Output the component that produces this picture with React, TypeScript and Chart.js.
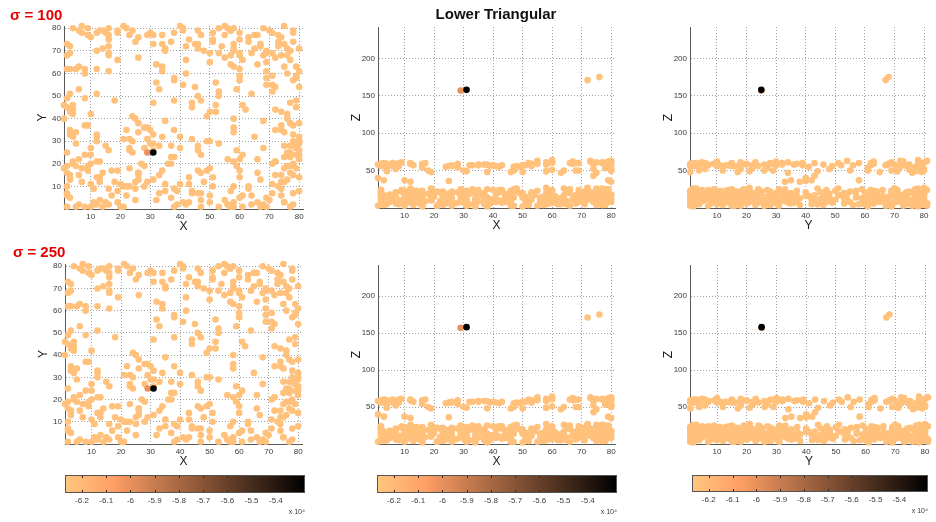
import React, { useEffect, useRef } from 'react';
import { Chart, registerables } from 'chart.js';

Chart.register(...registerables);

type Triple = [number, number, number];
type Marked = [number, number, number, number];

const FONT = '"Liberation Sans", Arial, Helvetica, sans-serif';
Chart.defaults.font.family = FONT;

// Axis tick values
const gridTicks = [10, 20, 30, 40, 50, 60, 70, 80];
const zTicks = [50, 100, 150, 200];
const xLimits = [1, 81.3];
const yLimits = [0, 81];
const zLimits = [0, 242];

// Colour bar (values in units of 10^4)
const colorTicks = [-6.2, -6.1, -6.0, -5.9, -5.8, -5.7, -5.6, -5.5, -5.4];
const colorTickLabels = ['-6.2', '-6.1', '-6', '-5.9', '-5.8', '-5.7', '-5.6', '-5.5', '-5.4'];
const colorLimits = [-6.27, -5.28];

// Colour value of every ordinary point
const baseValue = -6.24;

// Point cloud: [x, y, z]
const cloud: Triple[] = [
  [4, 80, 52], [6, 79, 14], [7, 81, 6], [9, 80, 61], [13, 79, 22], [15, 78, 9], [16, 80, 17], [19, 79, 48], [21, 81, 3], [22, 80, 21], [24, 79, 55], [40, 81, 24], [41, 80, 12], [46, 79, 8], [53, 80, 18], [55, 81, 63], [56, 80, 12], [57, 79, 4], [58, 80, 27], [68, 80, 50], [70, 79, 19], [75, 81, 6], [78, 79, 57],
  [7, 78, 21], [9, 77, 10], [12, 78, 59], [14, 79, 13], [16, 77, 4], [19, 78, 26], [23, 77, 15], [29, 77, 16], [30, 78, 7], [31, 77, 49], [34, 77, 12], [38, 78, 2], [41, 79, 19], [47, 77, 55], [51, 78, 9], [55, 77, 23], [57, 79, 11], [60, 78, 64], [65, 77, 5], [71, 78, 18], [73, 77, 16], [78, 78, 53],
  [10, 76, 3], [16, 75, 58], [26, 76, 20], [51, 75, 11], [63, 76, 47], [66, 77, 25], [74, 76, 8],
  [25, 74, 56], [31, 73, 18], [37, 74, 5], [43, 75, 22], [45, 73, 9], [51, 74, 15], [58, 73, 7], [60, 75, 51], [63, 74, 13], [67, 73, 62], [73, 74, 21], [75, 73, 9], [78, 74, 14],
  [2, 73, 12], [3, 72, 56], [14, 71, 19], [16, 72, 8], [34, 73, 8], [35, 71, 24], [42, 72, 55], [46, 73, 3], [54, 72, 17], [58, 71, 49], [67, 72, 11], [73, 72, 63], [76, 71, 20],
  [12, 70, 7], [16, 69, 23], [35, 70, 58], [46, 71, 14], [48, 70, 26], [50, 69, 2], [58, 70, 20], [60, 69, 61], [65, 71, 9], [69, 70, 15], [71, 69, 5], [77, 70, 26], [80, 71, 52],
  [2, 68, 59], [3, 69, 4], [16, 68, 15], [53, 69, 21], [57, 68, 10], [60, 68, 13], [64, 69, 50], [68, 68, 6], [69, 69, 18], [74, 68, 58], [76, 68, 175],
  [19, 66, 10], [26, 67, 57], [42, 66, 24], [55, 67, 3], [61, 66, 14], [72, 67, 171], [77, 66, 16],
  [32, 64, 19], [34, 63, 6], [50, 65, 48], [57, 64, 12], [58, 63, 59], [66, 64, 22], [69, 65, 8], [75, 63, 23],
  [2, 62, 24], [3, 62, 57], [5, 62, 8], [6, 63, 16], [8, 62, 60], [12, 62, 14], [34, 61, 2], [60, 62, 18], [79, 63, 62],
  [8, 60, 5], [16, 61, 54], [42, 60, 21], [60, 59, 7], [69, 61, 12], [76, 60, 14], [79, 59, 25], [80, 61, 50],
  [38, 58, 5], [60, 57, 23], [69, 58, 60], [71, 59, 13], [78, 57, 19], [79, 58, 37],
  [32, 56, 57], [38, 57, 14], [52, 56, 4], [71, 55, 22],
  [41, 55, 8], [45, 54, 18], [69, 55, 50], [72, 54, 11],
  [6, 53, 13], [33, 53, 20], [53, 52, 57], [59, 53, 6], [80, 54, 63],
  [3, 51, 60], [12, 51, 26], [53, 50, 11], [64, 51, 17], [71, 52, 17],
  [2, 49, 7], [8, 49, 56], [46, 50, 23], [79, 48, 14],
  [18, 48, 19], [38, 48, 13], [44, 47, 8], [47, 48, 52],
  [1, 46, 58], [4, 46, 15], [31, 47, 22], [52, 46, 4], [61, 46, 10], [77, 47, 24],
  [2, 45, 21], [4, 44, 49], [44, 45, 12], [62, 44, 5], [79, 45, 8],
  [3, 43, 10], [4, 42, 5], [50, 43, 17], [52, 43, 60], [72, 44, 26], [74, 43, 43],
  [10, 42, 37], [49, 41, 55], [76, 42, 11],
  [1, 40, 40], [24, 41, 16], [25, 40, 36], [58, 40, 16], [68, 39, 60], [76, 40, 21],
  [26, 38, 13], [35, 39, 57], [77, 38, 4], [80, 38, 35],
  [8, 37, 59], [9, 37, 23], [29, 36, 10], [74, 37, 8], [78, 37, 16],
  [28, 36, 7], [38, 35, 6], [58, 36, 58], [74, 35, 12],
  [3, 35, 37], [5, 34, 18], [22, 35, 9], [26, 34, 7], [30, 35, 20], [58, 34, 61], [72, 35, 14], [75, 34, 47],
  [3, 33, 9], [4, 32, 58], [12, 33, 35], [31, 33, 14], [65, 32, 21], [78, 33, 25],
  [12, 32, 60], [21, 31, 3], [34, 32, 19], [40, 32, 11], [44, 31, 11], [80, 32, 59],
  [12, 30, 16], [23, 31, 22], [29, 31, 25], [50, 30, 57],
  [24, 30, 6], [30, 29, 50], [49, 30, 20], [78, 30, 13], [80, 30, 62],
  [5, 29, 17], [31, 29, 10], [33, 28, 22], [53, 29, 59], [78, 28, 4], [80, 29, 17],
  [15, 28, 18], [28, 27, 54], [37, 28, 8], [46, 28, 21], [68, 27, 12], [75, 28, 13], [77, 28, 60],
  [10, 27, 9], [23, 27, 15], [31, 26, 3], [40, 27, 57], [79, 27, 24],
  [16, 26, 58], [23, 26, 11], [24, 25, 19], [46, 26, 5], [59, 26, 7], [76, 25, 22], [80, 26, 50],
  [2, 25, 21], [8, 24, 56], [77, 25, 9], [79, 24, 14],
  [10, 24, 13], [38, 23, 58], [47, 24, 25], [61, 24, 7], [75, 23, 4], [80, 24, 18],
  [37, 23, 20], [60, 22, 9], [77, 23, 61],
  [6, 22, 57], [13, 21, 23], [56, 22, 12], [66, 22, 20], [72, 21, 16], [80, 22, 53],
  [4, 21, 8], [12, 21, 17], [36, 20, 17], [58, 21, 49], [72, 21, 27], [78, 20, 14],
  [4, 20, 59], [5, 19, 14], [10, 20, 6], [27, 20, 6], [28, 19, 21], [37, 20, 58], [71, 20, 11], [76, 19, 19],
  [2, 19, 16], [7, 18, 52], [9, 19, 24], [59, 19, 10], [75, 18, 61], [77, 19, 25],
  [1, 18, 3], [23, 18, 4], [49, 17, 20], [50, 18, 57], [60, 17, 16], [79, 18, 60],
  [9, 17, 22], [14, 16, 9], [17, 17, 9], [19, 17, 16], [26, 16, 56], [34, 17, 12], [46, 17, 48], [66, 16, 3],
  [2, 16, 6], [6, 15, 56], [26, 16, 19], [47, 16, 14], [74, 15, 18], [77, 16, 22],
  [3, 15, 60], [13, 14, 11], [26, 15, 3], [33, 15, 25], [60, 14, 24], [72, 15, 15], [78, 15, 59], [80, 14, 8],
  [3, 14, 17], [12, 14, 8], [26, 13, 22], [43, 14, 7], [51, 14, 57], [67, 13, 12],
  [3, 13, 57], [7, 12, 18], [31, 13, 23], [74, 12, 20], [76, 13, 10],
  [13, 12, 4], [18, 12, 50], [20, 11, 15], [25, 12, 8], [29, 12, 21], [35, 11, 9], [48, 12, 56], [75, 12, 16],
  [10, 11, 23], [23, 10, 13], [40, 11, 12], [43, 11, 57], [63, 10, 5], [71, 11, 18], [73, 10, 62],
  [2, 10, 56], [11, 9, 14], [21, 10, 22], [22, 10, 7], [25, 9, 18], [28, 10, 59], [38, 9, 25], [51, 10, 10], [58, 10, 6], [74, 9, 19],
  [16, 9, 59], [35, 8, 20], [63, 9, 13], [80, 8, 11],
  [19, 8, 12], [33, 7, 57], [39, 8, 6], [44, 8, 19], [46, 7, 22], [57, 8, 15], [78, 7, 58],
  [2, 7, 24], [17, 6, 60], [44, 7, 18], [47, 7, 3], [61, 6, 14], [71, 7, 13], [74, 6, 52],
  [2, 6, 58], [3, 5, 9], [22, 6, 21], [50, 6, 20], [60, 5, 61], [64, 6, 11],
  [37, 5, 15], [47, 4, 50], [69, 5, 24],
  [13, 4, 57], [15, 3, 6], [25, 4, 19], [32, 4, 5], [50, 3, 14], [55, 4, 59], [70, 4, 21], [75, 3, 8],
  [11, 3, 20], [12, 2, 59], [19, 3, 13], [41, 3, 56], [42, 2, 10], [43, 3, 24], [56, 2, 7], [58, 3, 5], [66, 3, 60], [68, 2, 17], [75, 3, 26], [78, 2, 12],
  [6, 2, 60], [10, 1, 17], [11, 2, 9], [16, 2, 2], [20, 1, 22], [39, 2, 56], [56, 2, 14], [58, 1, 19], [64, 2, 26],
  [2, 1, 18], [5, 1, 57], [8, 1, 11], [14, 1, 23], [21, 1, 3], [38, 1, 48], [47, 1, 21], [53, 1, 56], [57, 1, 8], [61, 1, 16], [67, 1, 59], [69, 1, 13], [77, 1, 4],
];

// Highlighted points: [x, y, z, colour value]
const markedPoints: Marked[] = [
  [29, 25, 157, -6.0],
  [31, 25, 158, -5.28],
];

type Proj = 'xy' | 'xz' | 'yz';
interface PanelDef {
  proj: Proj;
  box: [number, number, number, number];
  xTitle: string;
  yTitle: string;
}

const panels: PanelDef[] = [
  { proj: 'xy', box: [64, 26, 303, 209], xTitle: 'X', yTitle: 'Y' },
  { proj: 'xz', box: [378, 27, 615, 208], xTitle: 'X', yTitle: 'Z' },
  { proj: 'yz', box: [690, 27, 927, 208], xTitle: 'Y', yTitle: 'Z' },
  { proj: 'xy', box: [65, 264, 302, 444], xTitle: 'X', yTitle: 'Y' },
  { proj: 'xz', box: [378, 265, 615, 444], xTitle: 'X', yTitle: 'Z' },
  { proj: 'yz', box: [690, 265, 928, 444], xTitle: 'Y', yTitle: 'Z' },
];

const colorbars: [number, number, number, number][] = [
  [65, 475, 305, 493],
  [377, 475, 617, 493],
  [692, 475, 928, 492],
];

// reversed "copper" colour map
function copperReversed(v: number): string {
  const t = Math.min(1, Math.max(0, (colorLimits[1] - v) / (colorLimits[1] - colorLimits[0])));
  const r = Math.round(255 * Math.min(1, 1.25 * t));
  const g = Math.round(255 * 0.7812 * t);
  const b = Math.round(255 * 0.4975 * t);
  return `rgb(${r},${g},${b})`;
}

const PAD_L = 44;
const PAD_T = 8;
const PAD_R = 6;
const PAD_B = 30;

const tickFont = { family: FONT, size: 8 };
const gridColor = 'rgba(100,100,100,0.6)';
const axisColor = '#5a5a5a';

function ScatterPanel({ def }: { def: PanelDef }) {
  const ref = useRef<HTMLCanvasElement>(null);
  const [L, T, R, B] = def.box;
  const width = R - L + PAD_L + PAD_R;
  const height = B - T + PAD_T + PAD_B;

  useEffect(() => {
    if (!ref.current) return;
    const rows: Marked[] = [...cloud.map((p) => [p[0], p[1], p[2], baseValue] as Marked), ...markedPoints];
    const pick = (p: Marked) =>
      def.proj === 'xy' ? { x: p[0], y: p[1] } : def.proj === 'xz' ? { x: p[0], y: p[2] } : { x: p[1], y: p[2] };
    const isXY = def.proj === 'xy';
    const hLimits = def.proj === 'yz' ? [0.9, 81] : xLimits;
    const vLimits = isXY ? yLimits : zLimits;
    const vTicks = isXY ? gridTicks : zTicks;

    const chart = new Chart(ref.current, {
      type: 'scatter',
      data: {
        datasets: [
          {
            data: rows.map(pick),
            pointBackgroundColor: rows.map((p) => copperReversed(p[3])),
            pointBorderWidth: 0,
            pointRadius: 3.3,
            pointHoverRadius: 3.3,
            clip: false as any,
          },
        ],
      },
      options: {
        responsive: false,
        animation: false,
        events: [],
        layout: { padding: { left: 0, top: PAD_T, right: PAD_R, bottom: 0 } },
        plugins: { legend: { display: false }, tooltip: { enabled: false } },
        scales: {
          x: {
            type: 'linear',
            min: hLimits[0],
            max: hLimits[1],
            afterBuildTicks: (s: any) => {
              s.ticks = gridTicks.map((v) => ({ value: v }));
            },
            afterFit: (s: any) => {
              s.height = PAD_B;
            },
            grid: { color: gridColor, lineWidth: 1, drawTicks: false },
            border: { display: true, color: axisColor, width: 1, dash: [1, 2] },
            ticks: { padding: 3, font: tickFont, color: '#3a3a3a', autoSkip: false, maxRotation: 0 },
            title: {
              display: true,
              text: def.xTitle,
              font: { family: FONT, size: 12 },
              color: '#1a1a1a',
              padding: { top: 0, bottom: 5 },
            },
          },
          y: {
            type: 'linear',
            min: vLimits[0],
            max: vLimits[1],
            afterBuildTicks: (s: any) => {
              s.ticks = vTicks.map((v) => ({ value: v }));
            },
            afterFit: (s: any) => {
              s.width = PAD_L;
            },
            grid: { color: gridColor, lineWidth: 1, drawTicks: false },
            border: { display: true, color: axisColor, width: 1, dash: [1, 2] },
            ticks: { padding: 3, font: tickFont, color: '#3a3a3a', autoSkip: false },
            title: {
              display: true,
              text: def.yTitle,
              font: { family: FONT, size: 12 },
              color: '#1a1a1a',
              padding: { top: 15, bottom: 0 },
            },
          },
        },
      },
    });
    return () => chart.destroy();
  }, []);

  return (
    <canvas
      ref={ref}
      width={width}
      height={height}
      style={{ position: 'absolute', left: L - PAD_L, top: T - PAD_T, width, height, display: 'block' }}
    />
  );
}

const CB_L = 12;
const CB_R = 8;
const CB_T = 5;
const CB_B = 29;

const colorbarFill = {
  id: 'colorbarFill',
  beforeDatasetsDraw(chart: any) {
    const { ctx, chartArea, scales } = chart;
    const { left, right, top, bottom } = chartArea;
    const grad = ctx.createLinearGradient(left, 0, right, 0);
    grad.addColorStop(0, copperReversed(colorLimits[0]));
    grad.addColorStop(0.2, copperReversed(colorLimits[0] + 0.2 * (colorLimits[1] - colorLimits[0])));
    grad.addColorStop(1, copperReversed(colorLimits[1]));
    ctx.save();
    ctx.fillStyle = grad;
    ctx.fillRect(left, top, right - left, bottom - top);
    ctx.strokeStyle = '#2a2a2a';
    ctx.lineWidth = 1;
    colorTicks.forEach((v) => {
      const px = Math.round(scales.x.getPixelForValue(v)) + 0.5;
      ctx.beginPath();
      ctx.moveTo(px, top);
      ctx.lineTo(px, top + 3);
      ctx.moveTo(px, bottom);
      ctx.lineTo(px, bottom - 3);
      ctx.stroke();
    });
    ctx.strokeStyle = '#555';
    ctx.strokeRect(left + 0.5, top + 0.5, right - left - 1, bottom - top - 1);
    ctx.restore();
  },
};

function ColorBar({ box }: { box: [number, number, number, number] }) {
  const ref = useRef<HTMLCanvasElement>(null);
  const [L, T, R, B] = box;
  const width = R - L + CB_L + CB_R;
  const height = B - T + CB_T + CB_B;

  useEffect(() => {
    if (!ref.current) return;
    const chart = new Chart(ref.current, {
      type: 'scatter',
      data: { datasets: [] },
      plugins: [colorbarFill],
      options: {
        responsive: false,
        animation: false,
        events: [],
        layout: { padding: { left: CB_L, top: CB_T, right: CB_R, bottom: 0 } },
        plugins: { legend: { display: false }, tooltip: { enabled: false } },
        scales: {
          x: {
            type: 'linear',
            min: colorLimits[0],
            max: colorLimits[1],
            afterBuildTicks: (s: any) => {
              s.ticks = colorTicks.map((v) => ({ value: v }));
            },
            afterFit: (s: any) => {
              s.height = CB_B;
            },
            grid: { display: false, drawTicks: false },
            border: { display: false },
            ticks: {
              padding: 3,
              font: tickFont,
              color: '#3a3a3a',
              autoSkip: false,
              maxRotation: 0,
              callback: (_v: any, i: number) => colorTickLabels[i],
            },
            title: {
              display: true,
              text: 'x 10⁴',
              align: 'end',
              font: { family: FONT, size: 7 },
              color: '#3a3a3a',
              padding: { top: 0, bottom: 6 },
            },
          },
          y: { type: 'linear', min: 0, max: 1, display: false },
        },
      },
    });
    return () => chart.destroy();
  }, []);

  return (
    <canvas
      ref={ref}
      width={width}
      height={height}
      style={{ position: 'absolute', left: L - CB_L, top: T - CB_T, width, height, display: 'block' }}
    />
  );
}

const headStyle: React.CSSProperties = {
  position: 'absolute',
  fontFamily: FONT,
  fontWeight: 'bold',
  fontSize: 15,
  lineHeight: '15px',
  whiteSpace: 'nowrap',
};

export default function App() {
  return (
    <div
      style={{
        position: 'absolute',
        left: 0,
        top: 0,
        width: 936,
        height: 522,
        background: '#ffffff',
        overflow: 'hidden',
        fontFamily: FONT,
      }}
    >
      {panels.map((p, i) => (
        <ScatterPanel key={i} def={p} />
      ))}
      {colorbars.map((b, i) => (
        <ColorBar key={i} box={b} />
      ))}
      <div style={{ ...headStyle, left: 10, top: 7, color: '#e60000' }}>σ = 100</div>
      <div style={{ ...headStyle, left: 13, top: 244, color: '#e60000' }}>σ = 250</div>
      <div style={{ ...headStyle, left: 396, top: 6, width: 200, textAlign: 'center', color: '#111' }}>
        Lower Triangular
      </div>
    </div>
  );
}
